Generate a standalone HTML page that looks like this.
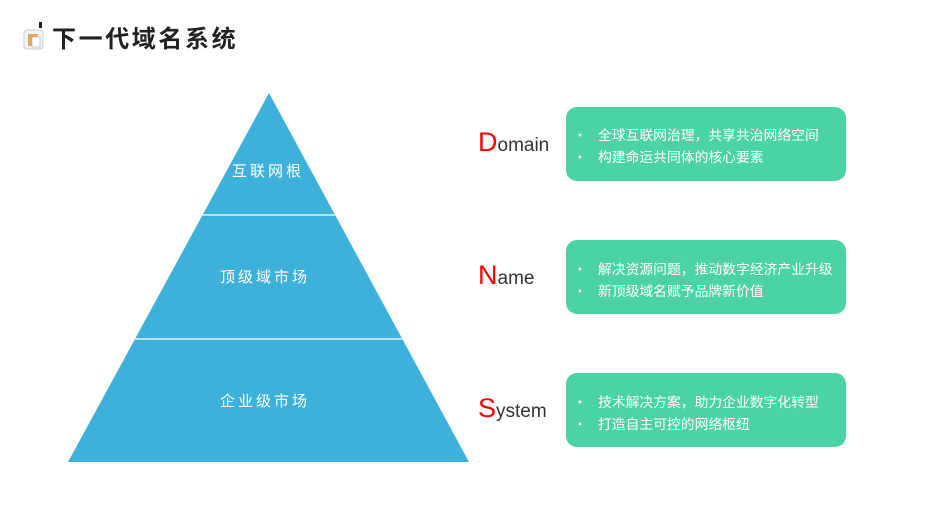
<!DOCTYPE html>
<html><head><meta charset="utf-8"><style>
body{margin:0;width:946px;height:529px;background:#fff;position:relative;overflow:hidden;font-family:"Liberation Sans","Noto Sans CJK SC",sans-serif}
.t{position:absolute;white-space:nowrap}
.box{position:absolute;left:566px;width:280px;height:74px;background:#4cd3a5;border-radius:11px}
.box div{position:absolute;left:7px;color:#fff;font-size:13.8px;line-height:22px;font-family:"Noto Sans CJK SC",sans-serif;white-space:nowrap}
.box span{display:inline-block;width:25px}
.lab{position:absolute;color:#fff;font-size:15px;letter-spacing:3px;font-family:"Noto Sans CJK SC",sans-serif}
.w{position:absolute;left:478px;font-size:19px;color:#333}
.w b{font-weight:normal;color:#f00;font-size:27px}
</style></head><body>
<svg style="position:absolute;left:0;top:0" width="946" height="529">
<rect x="24" y="30" width="19" height="19" rx="3" fill="#f3f3f3" stroke="#ccc"/>
<rect x="28" y="34" width="10" height="12" fill="#e0a860"/>
<rect x="32" y="37" width="8" height="10" fill="#fff" stroke="#aaa" stroke-width="0.6"/>
<rect x="39" y="22" width="3" height="6" fill="#222"/>
<polygon points="269,93 469,462 68,462" fill="#3eb1da"/>
<line x1="200" y1="215" x2="336" y2="215" stroke="#dff2fa" stroke-width="1.5"/>
<line x1="135" y1="339" x2="402" y2="339" stroke="#dff2fa" stroke-width="1.5"/>
</svg>
<div class="t" style="left:52px;top:19px;font-size:24px;font-weight:bold;color:#222;font-family:'Noto Sans CJK SC',sans-serif;letter-spacing:2.6px">下一代域名系统</div>
<div class="lab" style="left:232px;top:160px">互联网根</div>
<div class="lab" style="left:220px;top:266px">顶级域市场</div>
<div class="lab" style="left:220px;top:390px">企业级市场</div>
<div class="t w" style="top:127px"><b>D</b>omain</div>
<div class="t w" style="top:260px"><b>N</b>ame</div>
<div class="t w" style="top:393px"><b>S</b>ystem</div>
<div class="box" style="top:107px"><div style="top:16px"><span>•</span>全球互联网治理，共享共治网络空间<br><span>•</span>构建命运共同体的核心要素</div></div>
<div class="box" style="top:240px"><div style="top:17px"><span>•</span>解决资源问题，推动数字经济产业升级<br><span>•</span>新顶级域名赋予品牌新价值</div></div>
<div class="box" style="top:373px"><div style="top:17px"><span>•</span>技术解决方案，助力企业数字化转型<br><span>•</span>打造自主可控的网络枢纽</div></div>
</body></html>
